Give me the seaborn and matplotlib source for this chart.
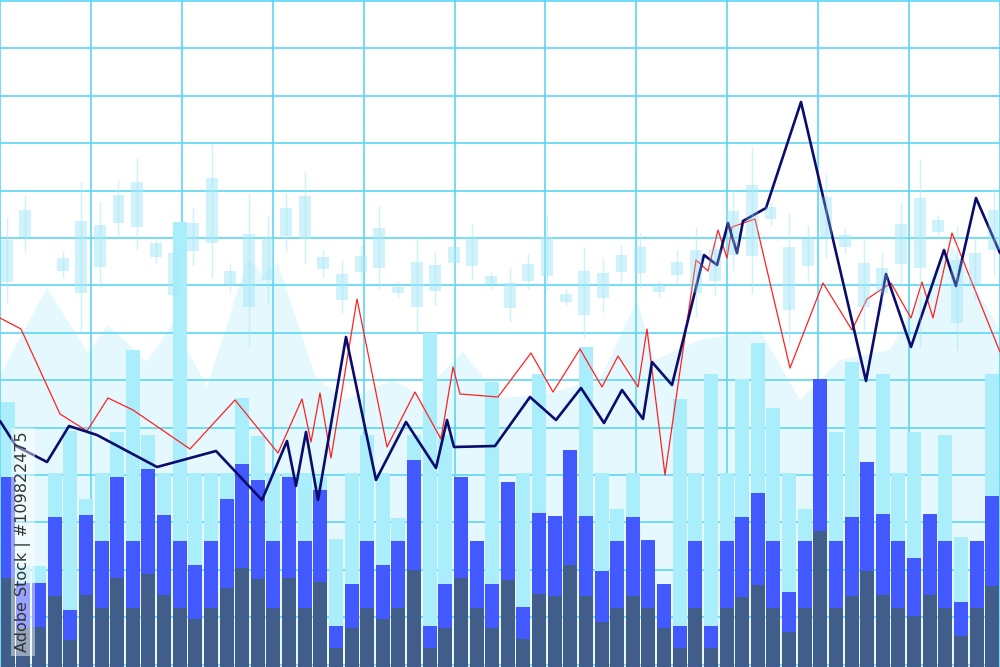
import numpy as np
import pandas as pd
import matplotlib
matplotlib.use("Agg")
import matplotlib.pyplot as plt
import seaborn as sns

H = 667  # chart value range (0 = bottom, 667 = top)

# ---- volume bars (three overlaid layers per bar) ----
bar_idx = list(range(64))
bar_light = [265, 101, 101, 194, 236, 168, 194, 235, 317, 232, 194, 445, 194, 194, 194, 269,
             231, 194, 194, 194, 190, 128, 194, 232, 194, 149, 232, 334, 232, 190, 126, 285,
             185, 194, 293, 151, 217, 320, 194, 158, 194, 127, 83, 268, 194, 293, 194, 288,
             324, 259, 194, 158, 288, 235, 305, 205, 293, 194, 235, 153, 232, 130, 126, 293]
bar_blue = [190, 84, 84, 150, 57, 152, 126, 190, 126, 198, 152, 126, 102, 126, 168, 203,
            187, 126, 190, 126, 177, 41, 83, 126, 102, 126, 207, 41, 83, 190, 126, 83,
            185, 60, 154, 151, 217, 151, 96, 126, 150, 127, 83, 41, 126, 41, 126, 150,
            174, 126, 75, 126, 288, 126, 150, 205, 153, 126, 109, 153, 126, 65, 126, 171]
bar_dark = [89, 39, 40, 71, 27, 72, 59, 89, 59, 93, 72, 59, 48, 59, 79, 99,
            88, 59, 89, 59, 85, 19, 39, 59, 48, 59, 97, 19, 39, 89, 59, 39,
            87, 28, 73, 71, 102, 71, 45, 59, 71, 59, 39, 19, 59, 19, 59, 70,
            82, 59, 35, 59, 136, 59, 71, 96, 72, 59, 51, 72, 59, 31, 59, 81]

# ---- background area (mountain silhouette) ----
bg_t = [0, 47, 88, 108, 147, 173, 207, 248, 263, 278, 316, 345, 393, 420, 463, 500,
        540, 600, 637, 655, 700, 760, 800, 840, 890, 950, 1000]
bg_v = [292, 379, 314, 342, 305, 344, 280, 409, 392, 404, 289, 267, 287, 272, 315, 269,
        272, 287, 367, 307, 327, 337, 267, 307, 317, 424, 337]

# ---- price lines ----
navy_t = [0, 16, 47, 69, 97, 157, 216, 262, 287, 296, 306, 318, 346, 376, 406, 436, 447, 454,
          495, 530, 556, 581, 604, 622, 643, 652, 672, 704, 717, 728, 737, 743, 766, 801,
          866, 886, 911, 944, 956, 976, 1000]
navy_v = [246, 221, 205, 241, 232, 200, 216, 167, 226, 181, 235, 167, 330, 187, 245, 199, 247, 220,
          221, 270, 247, 279, 244, 277, 248, 305, 282, 412, 402, 444, 414, 446, 459, 565,
          286, 393, 320, 417, 381, 469, 414]
red_t = [0, 21, 60, 87, 108, 133, 190, 235, 278, 302, 311, 320, 331, 357, 387, 415, 441, 453,
         460, 498, 531, 553, 580, 602, 618, 638, 647, 665, 696, 708, 718, 727, 732, 755, 790,
         823, 852, 867, 891, 911, 922, 933, 952, 1000]
red_v = [349, 338, 253, 236, 269, 257, 218, 267, 214, 268, 225, 274, 209, 368, 220, 275, 228, 300,
         273, 270, 314, 275, 318, 280, 311, 280, 338, 192, 407, 396, 437, 409, 440, 448, 299,
         384, 337, 368, 384, 349, 385, 349, 434, 315]

# ---- candlesticks (faint, background) ----
cs_slot = list(range(54))
cs_body_top = [240, 210, np.nan, 258, 221, 225, 195, 182, 243, 253, 223, 178, 271, 234, 238, 208, 196, 257,
               274, 256, 228, 287, 262, 265, 247, 238, 276, 283, 264, 237, 294, 271, 273, 255, 247, 285,
               262, 250, 249, 211, 185, 207, 247, 239, 197, 235, 263, 268, 224, 198, 220, 260, 253, 210]
cs_body_bot = [282, 237, np.nan, 271, 293, 267, 223, 227, 257, 295, 251, 243, 284, 307, 280, 236, 239, 269,
               300, 272, 268, 293, 307, 291, 263, 266, 284, 308, 281, 276, 302, 315, 298, 272, 273, 292,
               275, 293, 281, 255, 256, 219, 310, 266, 237, 247, 307, 293, 264, 268, 232, 323, 284, 250]
cs_high = [217, 195, np.nan, 251, 182, 202, 180, 158, 237, 240, 208, 143, 264, 194, 216, 193, 172, 249,
           260, 246, 206, 282, 238, 252, 238, 224, 272, 268, 254, 215, 289, 247, 259, 245, 233, 281,
           250, 227, 233, 190, 147, 202, 213, 225, 174, 228, 240, 253, 202, 159, 215, 226, 238, 187]
cs_low = [303, 252, np.nan, 278, 333, 287, 238, 250, 263, 305, 266, 278, 292, 347, 303, 251, 263, 277,
          313, 286, 290, 298, 332, 305, 287, 280, 289, 322, 289, 290, 306, 338, 312, 282, 288, 297,
          285, 317, 295, 270, 294, 226, 343, 281, 258, 253, 330, 308, 287, 347, 238, 350, 300, 275]

# pixel-row values are converted to heights above the bottom edge
cs_body_top = [H - v for v in cs_body_top]
cs_body_bot = [H - v for v in cs_body_bot]
cs_high = [H - v for v in cs_high]
cs_low = [H - v for v in cs_low]

GRID = "#5cd6f5"
C_LIGHT = "#aaeefc"
C_BLUE = "#4259ff"
C_DARK = "#415e8b"
C_BG = "#e4f8fd"
C_CANDLE = "#a6e8f8"

sns.set_theme(style="white")
fig = plt.figure(figsize=(10, 6.67), dpi=100)
fig.patch.set_facecolor("white")


def new_axes(z):
    ax = fig.add_axes([0, 0, 1, 1], zorder=z)
    ax.patch.set_alpha(0)
    for s in ax.spines.values():
        s.set_visible(False)
    ax.tick_params(length=0, labelbottom=False, labelleft=False)
    ax.set_xlabel("")
    ax.set_ylabel("")
    return ax


# background: mountain area + grid
ax_bg = new_axes(0)
ax_bg.patch.set_alpha(1)
ax_bg.patch.set_facecolor("white")
ax_bg.fill_between(bg_t, 0, bg_v, color=C_BG, lw=0, zorder=0)
ax_bg.set_xlim(0, 1000)
ax_bg.set_ylim(0, H)
ax_bg.set_xticks(np.linspace(0, 1000, 12))
ax_bg.set_yticks([666 - 47.4 * k for k in range(15)])
ax_bg.grid(True, color=GRID, lw=1.2)
ax_bg.set_axisbelow(False)

# candles (drawn under bars, faint)
ax_cs = new_axes(1)
body_h = np.array(cs_body_top) - np.array(cs_body_bot)
ax_cs.vlines(cs_slot, cs_low, cs_high, color=C_CANDLE, lw=1.0, alpha=0.35)
ax_cs.bar(cs_slot, body_h, bottom=cs_body_bot, width=0.64, color=C_CANDLE, alpha=0.35, lw=0)
ax_cs.set_xlim(-6.7 / 18.63, (1000 - 6.7) / 18.63)
ax_cs.set_ylim(0, H)

# bars
ax_bar = new_axes(2)
df = pd.DataFrame({"i": bar_idx, "light": bar_light, "blue": bar_blue, "dark": bar_dark})
for col, c in (("light", C_LIGHT), ("blue", C_BLUE), ("dark", C_DARK)):
    sns.barplot(data=df, x="i", y=col, color=c, saturation=1, width=0.9,
                errorbar=None, linewidth=0, ax=ax_bar)
ax_bar.set_xlim(-0.5, 63.5)
ax_bar.set_ylim(0, H)
ax_bar.set_xlabel("")
ax_bar.set_ylabel("")
ax_bar.tick_params(length=0, labelbottom=False, labelleft=False)

# lines
ax_ln = new_axes(3)
sns.lineplot(x=red_t, y=red_v, sort=False, color="#ff2222", lw=0.9, ax=ax_ln)
sns.lineplot(x=navy_t, y=navy_v, sort=False, color="#0c0c6e", lw=1.9, ax=ax_ln)
ax_ln.set_xlim(0, 1000)
ax_ln.set_ylim(0, H)
ax_ln.set_xlabel("")
ax_ln.set_ylabel("")

# candle overlay tint on top of lines
ax_cs2 = new_axes(4)
ax_cs2.vlines(cs_slot, cs_low, cs_high, color=C_CANDLE, lw=1.0, alpha=0.25)
ax_cs2.bar(cs_slot, body_h, bottom=cs_body_bot, width=0.64, color=C_CANDLE, alpha=0.25, lw=0)
ax_cs2.set_xlim(-6.7 / 18.63, (1000 - 6.7) / 18.63)
ax_cs2.set_ylim(0, H)

# vertical stock label
ax_ln.text(23, 125, "Adobe Stock | #109822475", rotation=90, ha="center", va="center",
           fontsize=11.5, color="#333333", family="DejaVu Sans", zorder=10,
           bbox=dict(boxstyle="square,pad=0.25", fc="white", ec="none", alpha=0.45))

fig.savefig("out.png", dpi=100)
